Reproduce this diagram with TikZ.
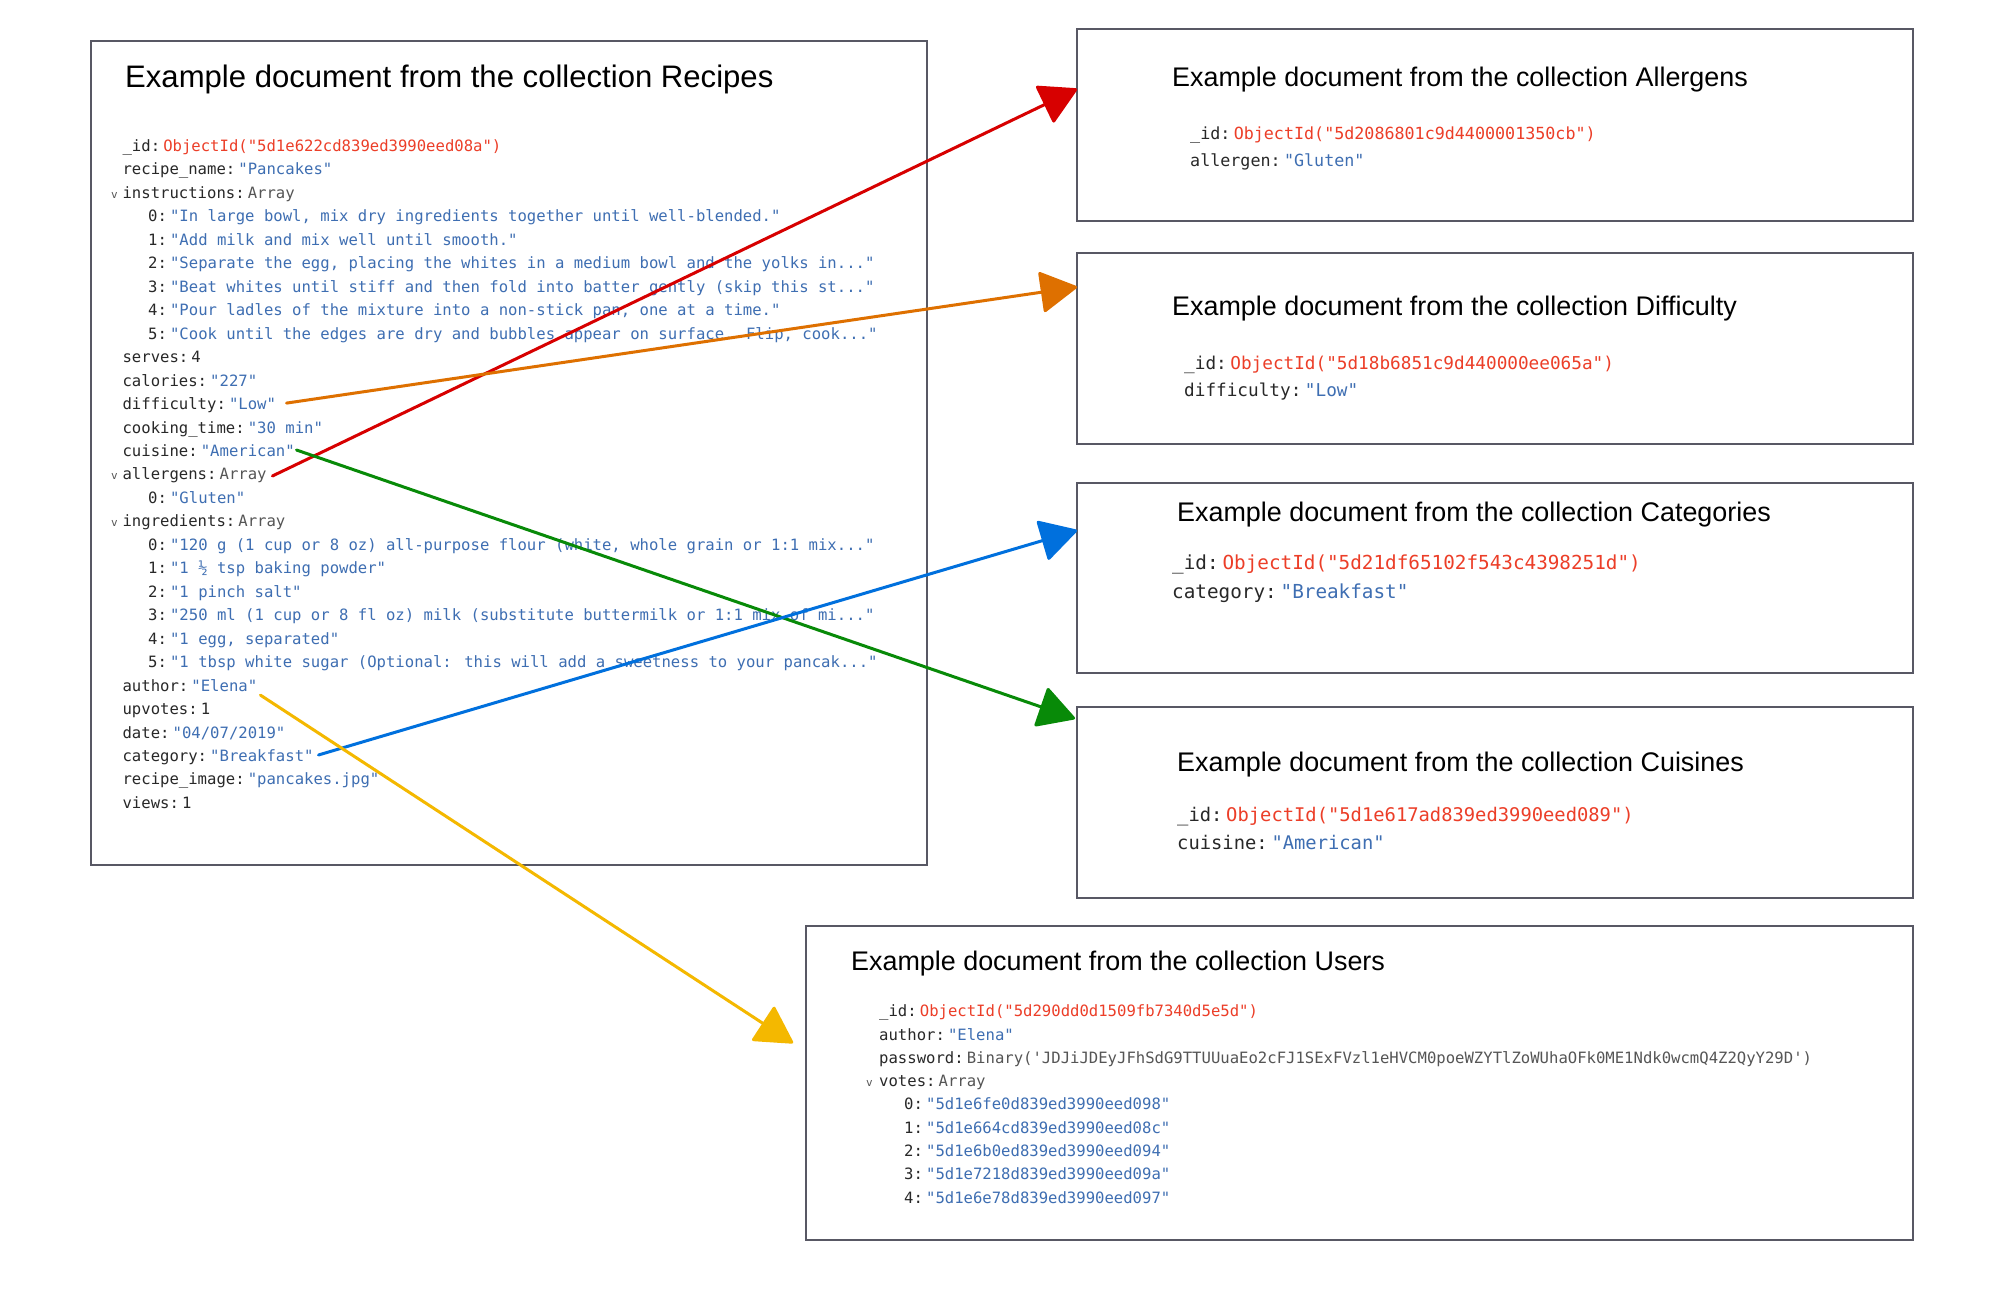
\documentclass[tikz,border=0pt]{standalone}
\usepackage{fontspec}
\setmainfont{Liberation Sans}
\newfontfamily\cmono{DejaVu Sans Mono}
\usetikzlibrary{arrows.meta,calc}
\definecolor{boxgray}{RGB}{88,88,100}
\definecolor{keyc}{RGB}{40,40,40}
\definecolor{valc}{RGB}{62,110,178}
\definecolor{oidc}{RGB}{236,62,40}
\definecolor{arrc}{RGB}{85,85,85}
\definecolor{cred}{RGB}{215,0,0}
\definecolor{corange}{RGB}{222,112,0}
\definecolor{cblue}{RGB}{0,112,221}
\definecolor{cgreen}{RGB}{8,138,8}
\definecolor{cyellow}{RGB}{244,184,0}
\newcommand{\jkey}[1]{\textcolor{keyc}{#1}\hspace{0.2em}}
\newcommand{\jval}[1]{\textcolor{valc}{#1}}
\newcommand{\joid}[1]{\textcolor{oidc}{ObjectId("#1")}}
\newcommand{\jarr}{\textcolor{arrc}{Array}}
\newcommand{\jnum}[1]{\textcolor{keyc}{#1}}
\tikzset{
  docbox/.style={draw=boxgray, line width=2pt, inner sep=0pt, outer sep=0pt, anchor=north west},
  mtext/.style={inner sep=0pt, anchor=base west, font=\cmono\fontsize{#1}{#1}\selectfont},
  rmono/.style={mtext=15.6},
  umono/.style={mtext=15.6},
  chev/.style={inner sep=0pt, anchor=base west, text=arrc, font=\cmono\fontsize{11}{11}\selectfont},
  ttl/.style={inner sep=0pt, anchor=base west, font=\fontsize{#1}{#1}\selectfont},
  link/.style={line width=3pt, line cap=round, -{Triangle[length=38pt,width=42pt,round]}}
}
\begin{document}
\begin{tikzpicture}[x=1pt,y=-1pt]
\useasboundingbox (0,0) rectangle (2000,1303);
\fill[white] (0,0) rectangle (2000,1303);

% ---------- boxes ----------
\node[docbox, minimum width=836.7pt, minimum height=824pt] (recipes) at (90.6,40.8) {};
\node[docbox, minimum width=836pt, minimum height=192pt] (allergens) at (1077,29) {};
\node[docbox, minimum width=836pt, minimum height=191pt] (difficulty) at (1077,253) {};
\node[docbox, minimum width=836pt, minimum height=190pt] (categories) at (1077,483.4) {};
\node[docbox, minimum width=836pt, minimum height=191pt] (cuisines) at (1077,706.6) {};
\node[docbox, minimum width=1107pt, minimum height=314pt] (users) at (806,926) {};

% ---------- Recipes ----------
\node[ttl=31.1] (trec) at (125,87.5) {Example document from the collection Recipes};
\node[rmono] (r0) at (122.4,151.5) {\jkey{\_id:}\joid{5d1e622cd839ed3990eed08a}};
\node[rmono] (r1) at (122.4,175.0) {\jkey{recipe\_name:}\jval{"Pancakes"}};
\node[chev] (c2) at (111,198.4) {v};
\node[rmono] (r2) at (122.4,198.4) {\jkey{instructions:}\jarr};
\node[rmono] (r3) at (148,221.9) {\jkey{0:}\jval{"In large bowl, mix dry ingredients together until well-blended."}};
\node[rmono] (r4) at (148,245.3) {\jkey{1:}\jval{"Add milk and mix well until smooth."}};
\node[rmono] (r5) at (148,268.8) {\jkey{2:}\jval{"Separate the egg, placing the whites in a medium bowl and the yolks in..."}};
\node[rmono] (r6) at (148,292.3) {\jkey{3:}\jval{"Beat whites until stiff and then fold into batter gently (skip this st..."}};
\node[rmono] (r7) at (148,315.7) {\jkey{4:}\jval{"Pour ladles of the mixture into a non-stick pan, one at a time."}};
\node[rmono] (r8) at (148,339.2) {\jkey{5:}\jval{"Cook until the edges are dry and bubbles appear on surface. Flip, cook..."}};
\node[rmono] (r9) at (122.4,362.6) {\jkey{serves:}\jnum{4}};
\node[rmono] (r10) at (122.4,386.1) {\jkey{calories:}\jval{"227"}};
\node[rmono] (r11) at (122.4,409.6) {\jkey{difficulty:}\jval{"Low"}};
\node[rmono] (r12) at (122.4,433.0) {\jkey{cooking\_time:}\jval{"30 min"}};
\node[rmono] (r13) at (122.4,456.5) {\jkey{cuisine:}\jval{"American"}};
\node[chev] (c14) at (111,479.9) {v};
\node[rmono] (r14) at (122.4,479.9) {\jkey{allergens:}\jarr};
\node[rmono] (r15) at (148,503.4) {\jkey{0:}\jval{"Gluten"}};
\node[chev] (c16) at (111,526.9) {v};
\node[rmono] (r16) at (122.4,526.9) {\jkey{ingredients:}\jarr};
\node[rmono] (r17) at (148,550.3) {\jkey{0:}\jval{"120 g (1 cup or 8 oz) all-purpose flour (white, whole grain or 1:1 mix..."}};
\node[rmono] (r18) at (148,573.8) {\jkey{1:}\jval{"1 ½ tsp baking powder"}};
\node[rmono] (r19) at (148,597.2) {\jkey{2:}\jval{"1 pinch salt"}};
\node[rmono] (r20) at (148,620.7) {\jkey{3:}\jval{"250 ml (1 cup or 8 fl oz) milk (substitute buttermilk or 1:1 mix of mi..."}};
\node[rmono] (r21) at (148,644.2) {\jkey{4:}\jval{"1 egg, separated"}};
\node[rmono] (r22) at (148,667.6) {\jkey{5:}\jval{"1 tbsp white sugar (Optional: this will add a sweetness to your pancak..."}};
\node[rmono] (r23) at (122.4,691.1) {\jkey{author:}\jval{"Elena"}};
\node[rmono] (r24) at (122.4,714.5) {\jkey{upvotes:}\jnum{1}};
\node[rmono] (r25) at (122.4,738.0) {\jkey{date:}\jval{"04/07/2019"}};
\node[rmono] (r26) at (122.4,761.5) {\jkey{category:}\jval{"Breakfast"}};
\node[rmono] (r27) at (122.4,784.9) {\jkey{recipe\_image:}\jval{"pancakes.jpg"}};
\node[rmono] (r28) at (122.4,808.4) {\jkey{views:}\jnum{1}};

% ---------- Allergens ----------
\node[ttl=26.9] (tall) at (1172,86.2) {Example document from the collection Allergens};
\node[mtext=16.7] (a0) at (1190,140) {\jkey{\_id:}\joid{5d2086801c9d4400001350cb}};
\node[mtext=16.7] (a1) at (1190,166) {\jkey{allergen:}\jval{"Gluten"}};

% ---------- Difficulty ----------
\node[ttl=26.9] (tdif) at (1172,315.8) {Example document from the collection Difficulty};
\node[mtext=17.7] (d0) at (1184,369.5) {\jkey{\_id:}\joid{5d18b6851c9d440000ee065a}};
\node[mtext=17.7] (d1) at (1184,396.5) {\jkey{difficulty:}\jval{"Low"}};

% ---------- Categories ----------
\node[ttl=26.9] (tcat) at (1177,521) {Example document from the collection Categories};
\node[mtext=19.3] (k0) at (1172,569.5) {\jkey{\_id:}\joid{5d21df65102f543c4398251d}};
\node[mtext=19.3] (k1) at (1172,598) {\jkey{category:}\jval{"Breakfast"}};

% ---------- Cuisines ----------
\node[ttl=26.9] (tcui) at (1177,771) {Example document from the collection Cuisines};
\node[mtext=18.8] (q0) at (1177,821.5) {\jkey{\_id:}\joid{5d1e617ad839ed3990eed089}};
\node[mtext=18.8] (q1) at (1177,849.5) {\jkey{cuisine:}\jval{"American"}};

% ---------- Users ----------
\node[ttl=26.9] (tusr) at (851,970) {Example document from the collection Users};
\node[umono] (u0) at (879,1016) {\jkey{\_id:}\joid{5d290dd0d1509fb7340d5e5d}};
\node[umono] (u1) at (879,1040) {\jkey{author:}\jval{"Elena"}};
\node[umono] (u2) at (879,1063) {\jkey{password:}\textcolor{arrc}{Binary(\textquotesingle JDJiJDEyJFhSdG9TTUUuaEo2cFJ1SExFVzl1eHVCM0poeWZYTlZoWUhaOFk0ME1Ndk0wcmQ4Z2QyY29D\textquotesingle)}};
\node[chev] (cu3) at (866,1086) {v};
\node[umono] (u3) at (879,1086) {\jkey{votes:}\jarr};
\node[umono] (u4) at (904,1109) {\jkey{0:}\jval{"5d1e6fe0d839ed3990eed098"}};
\node[umono] (u5) at (904,1133) {\jkey{1:}\jval{"5d1e664cd839ed3990eed08c"}};
\node[umono] (u6) at (904,1156) {\jkey{2:}\jval{"5d1e6b0ed839ed3990eed094"}};
\node[umono] (u7) at (904,1179) {\jkey{3:}\jval{"5d1e7218d839ed3990eed09a"}};
\node[umono] (u8) at (904,1203) {\jkey{4:}\jval{"5d1e6e78d839ed3990eed097"}};

% ---------- connectors ----------
\draw[link, cred] ($(r14.base east)+(5.6,-3.9)$) -- ([yshift=-60pt]allergens.north west);
\draw[link, corange] ($(r11.base east)+(10.3,-6.5)$) -- ([yshift=-34pt]difficulty.north west);
\draw[link, cgreen] ($(r13.base east)+(1.5,-6.5)$) -- ([xshift=-2pt,yshift=-12pt]cuisines.north west);
\draw[link, cblue] ($(r26.base east)+(4.7,-6.5)$) -- ([yshift=-47pt]categories.north west);
\draw[link, cyellow] ($(r23.base east)+(3,4)$) -- ([xshift=-13pt,yshift=-117pt]users.north west);
\end{tikzpicture}
\end{document}
